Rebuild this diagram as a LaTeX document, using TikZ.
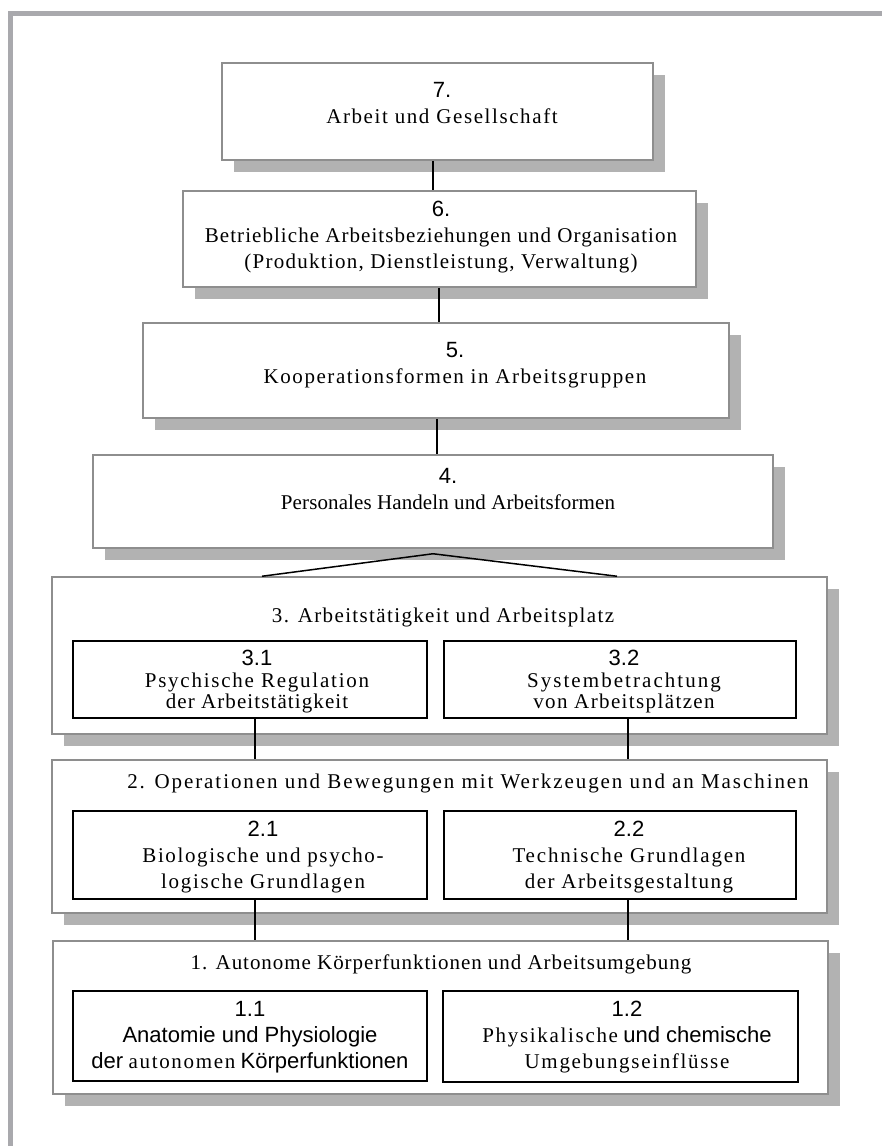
\documentclass[tikz,border=0pt]{standalone}
\usepackage{fontspec}
\setmainfont{Liberation Serif}
\setsansfont{Liberation Sans}
\newfontfamily\sanf[Scale=1.05]{Liberation Sans}
\newcommand\LS[2]{{\rmfamily\addfontfeatures{LetterSpace=#1}#2}}
\usetikzlibrary{shadows}
\definecolor{shd}{HTML}{B2B2B2}
\definecolor{frm}{HTML}{A9A9AD}
\definecolor{bdr}{HTML}{8E8E8E}
\begin{document}
\begin{tikzpicture}[x=1pt,y=-1pt,
  outerbox/.style={draw=bdr, line width=1.5pt, fill=white, inner sep=0pt,
    drop shadow={shadow xshift=12pt, shadow yshift=-12pt, fill=shd, opacity=1}},
  innerbox/.style={draw=black, line width=1.6pt, fill=white, inner sep=0pt},
  txt/.style={align=center, inner sep=0pt, anchor=north, font=\fontsize{21}{26}\selectfont\rmfamily},
  tighttxt/.style={txt, font=\fontsize{21}{21.5}\selectfont\rmfamily},
  conn/.style={draw=black, line width=1.6pt}]
\useasboundingbox (0,0) rectangle (882,1146);
% outer frame
\draw[frm, line width=5pt, line join=miter] (10.5,1146) -- (10.5,13.5) -- (882,13.5);
% outer boxes
\node[outerbox, minimum width=431pt, minimum height=97pt] (b7) at (437.5,111.5) {};
\node[outerbox, minimum width=513pt, minimum height=96pt] (b6) at (439.5,239) {};
\node[outerbox, minimum width=586pt, minimum height=95pt] (b5) at (436,370.5) {};
\node[outerbox, minimum width=680pt, minimum height=93pt] (b4) at (433,501.5) {};
\node[outerbox, minimum width=775pt, minimum height=157pt] (b3) at (439.5,655.5) {};
\node[outerbox, minimum width=775pt, minimum height=153pt] (b2) at (439.5,836.5) {};
\node[outerbox, minimum width=775pt, minimum height=153pt] (b1) at (440.5,1017.5) {};
% inner boxes
\node[innerbox, minimum width=354pt, minimum height=77pt] (c31) at (250,679.5) {};
\node[innerbox, minimum width=352pt, minimum height=77pt] (c32) at (620,679.5) {};
\node[innerbox, minimum width=354pt, minimum height=88pt] (c21) at (250,855) {};
\node[innerbox, minimum width=352pt, minimum height=88pt] (c22) at (620,855) {};
\node[innerbox, minimum width=354pt, minimum height=90pt] (c11) at (250,1036) {};
\node[innerbox, minimum width=355pt, minimum height=91pt] (c12) at (620.5,1036.5) {};
% texts
\node[txt] (t7) at (442,82) {{\sanf 7.}\\\LS{7.6}{Arbeit und Gesellschaft}};
\node[txt] (t6) at (441,201) {{\sanf 6.}\\\LS{5}{Betriebliche Arbeitsbeziehungen und Organisation}\\\LS{6}{(Produktion, Dienstleistung, Verwaltung)}};
\node[txt] (t5) at (455,342) {{\sanf 5.}\\\LS{7.4}{Kooperationsformen in Arbeitsgruppen}};
\node[txt] (t4) at (448,468) {{\sanf 4.}\\\LS{0.5}{Personales Handeln und Arbeitsformen}};
\node[txt] (t3) at (443,608) {\LS{6.5}{3. Arbeitstätigkeit und Arbeitsplatz}};
\node[tighttxt] (t31) at (257,650) {{\sanf 3.1}\\\LS{8.4}{Psychische Regulation}\\\LS{5.2}{der Arbeitstätigkeit}};
\node[tighttxt] (t32) at (624,650) {{\sanf 3.2}\\\LS{9.8}{Systembetrachtung}\\\LS{6.6}{von Arbeitsplätzen}};
\node[txt] (t2) at (468,774) {\LS{9.2}{2. Operationen und Bewegungen mit Werkzeugen und an Maschinen}};
\node[txt] (t21) at (263,821) {{\sanf 2.1}\\\LS{7.7}{Biologische und psycho-}\\\LS{8.3}{logische Grundlagen}};
\node[txt] (t22) at (629,821) {{\sanf 2.2}\\\LS{8.6}{Technische Grundlagen}\\\LS{7}{der Arbeitsgestaltung}};
\node[txt] (t1) at (441,955) {\LS{4.5}{1. Autonome Körperfunktionen und Arbeitsumgebung}};
\node[txt] (t11) at (250,1001) {{\sanf 1.1}\\{\sanf Anatomie und Physiologie}\\{\sanf der} \LS{8}{autonomen} {\sanf Körperfunktionen}};
\node[txt] (t12) at (627,1001) {{\sanf 1.2}\\\LS{8}{Physikalische} {\sanf und chemische}\\\LS{8}{Umgebungseinflüsse}};
% connectors
\draw[conn] ([xshift=-4.5pt]b7.south) -- ([xshift=-4.5pt]b7.south |- b6.north);
\draw[conn] ([xshift=-0.5pt]b6.south) -- ([xshift=-0.5pt]b6.south |- b5.north);
\draw[conn] ([xshift=1pt]b5.south) -- ([xshift=1pt]b5.south |- b4.north);
\coordinate (apex) at ([yshift=-5pt]b4.south);
\coordinate (l3) at ([xshift=-177.5pt]b3.north);
\coordinate (r3) at ([xshift=177.5pt]b3.north);
\draw[conn, line width=1.5pt] (l3) -- (apex) -- (r3);
\draw[conn] ([xshift=5pt]c31.south) -- ([xshift=5pt]c31.south |- b2.north);
\draw[conn] ([xshift=8pt]c32.south) -- ([xshift=8pt]c32.south |- b2.north);
\draw[conn] ([xshift=5pt]c21.south) -- ([xshift=5pt]c21.south |- b1.north);
\draw[conn] ([xshift=8pt]c22.south) -- ([xshift=8pt]c22.south |- b1.north);
\end{tikzpicture}
\end{document}
